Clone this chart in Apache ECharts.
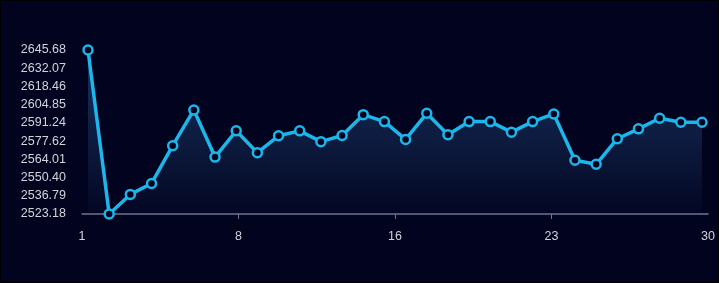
<!DOCTYPE html>
<html>
<head>
<meta charset="utf-8">
<script src="https://cdn.jsdelivr.net/npm/echarts@6/dist/echarts.min.js"></script>
<style>
html,body{margin:0;padding:0;background:#000;}
#c{position:absolute;left:1px;top:1px;width:717px;height:281px;background:#02031f;}
</style>
</head>
<body>
<div id="c"></div>
<script>
const days = ['1','2','3','4','5','6','7','8','9','10','11','12','13','14','15','16','17','18','19','20','21','22','23','24','25','26','27','28','29','30'];
const values = [2645.68,2523.18,2537.8,2546.0,2574.2,2600.9,2565.7,2585.3,2569.0,2581.6,2585.3,2577.2,2581.8,2597.4,2592.2,2578.9,2598.4,2582.4,2592.2,2592.2,2584.3,2592.2,2597.9,2563.3,2560.3,2579.4,2586.8,2594.7,2591.7,2591.7];
const yMin = 2523.18, yMax = 2645.68, ySteps = 9;
const xTickValues = [1, 8.25, 15.5, 22.75, 30];

const chart = echarts.init(document.getElementById('c'));
const labelColor = '#d2d4dc';
const axisColor = '#6c7492';
const bg = '#02031f';
chart.setOption({
  backgroundColor: bg,
  animation: false,
  grid: [
    {left: 81, right: 9, top: 49, bottom: 68},
    {left: 87, right: 16, top: 49, bottom: 68}
  ],
  xAxis: [
    {
      gridIndex: 0, type: 'value', min: 1, max: 30, interval: 7.25,
      axisLine: {show: true, lineStyle: {color: axisColor, width: 1.5}},
      axisTick: {show: true, length: 5, lineStyle: {color: axisColor}, customValues: xTickValues.slice(1, -1)},
      axisLabel: {color: labelColor, fontSize: 12.5, fontFamily: 'Liberation Sans, Arial, sans-serif', margin: 16,
        customValues: xTickValues, formatter: v => String(Math.round(v))},
      splitLine: {show: false}
    },
    {
      gridIndex: 1, type: 'category', data: days, boundaryGap: false, show: false
    }
  ],
  yAxis: [
    {
      gridIndex: 0, type: 'value', min: yMin, max: yMax, interval: (yMax - yMin) / ySteps,
      axisLine: {show: false}, axisTick: {show: false}, splitLine: {show: false},
      axisLabel: {color: labelColor, fontSize: 12.5, fontFamily: 'Liberation Sans, Arial, sans-serif', margin: 16,
        formatter: v => v.toFixed(2)}
    },
    {
      gridIndex: 1, type: 'value', min: yMin, max: yMax, show: false
    }
  ],
  series: [{
    type: 'line',
    xAxisIndex: 1, yAxisIndex: 1,
    data: values,
    symbol: 'circle',
    symbolSize: 9,
    lineStyle: {color: '#1bb6ea', width: 3.5},
    itemStyle: {color: bg, borderColor: '#1bb6ea', borderWidth: 2.5},
    areaStyle: {
      color: new echarts.graphic.LinearGradient(0, 0, 0, 1, [
        {offset: 0, color: 'rgba(38,86,140,0.85)'},
        {offset: 1, color: 'rgba(38,86,140,0.05)'}
      ])
    }
  }]
});
</script>
</body>
</html>
